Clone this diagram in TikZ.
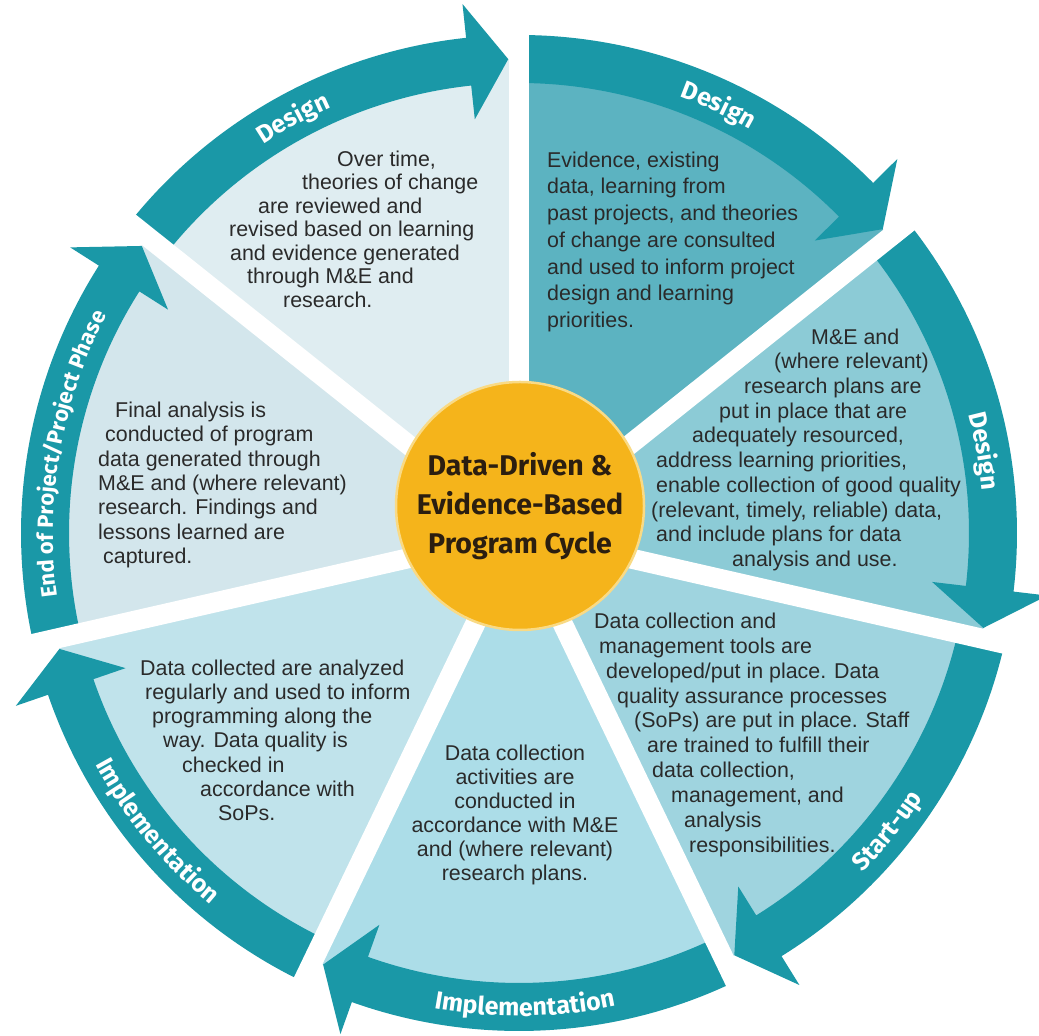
\documentclass[tikz,border=0pt]{standalone}
\usepackage{fontspec}
\setmainfont{Liberation Sans}
\newfontfamily\dinfont{Fira Sans}
\usetikzlibrary{decorations.text}

\definecolor{arrowteal}{HTML}{1A98A7}
\definecolor{hubyellow}{HTML}{F5B41B}
\definecolor{hubrim}{HTML}{F9DA85}
\definecolor{inkgray}{HTML}{2A2A2A}
\definecolor{hubink}{HTML}{2B1E10}
\definecolor{wedgeEvidence}{HTML}{5CB3C1}
\definecolor{wedgePlans}{HTML}{8CCBD6}
\definecolor{wedgeTools}{HTML}{9FD4DF}
\definecolor{wedgeCollect}{HTML}{ACDDE8}
\definecolor{wedgeAnalyse}{HTML}{C0E3EB}
\definecolor{wedgeFinal}{HTML}{D3E6EC}
\definecolor{wedgeReview}{HTML}{DFEDF1}

\newcommand{\blurbfont}[1]{\fontsize{21.4}{#1}\selectfont}
\newcommand{\labelfont}{\dinfont\bfseries\fontsize{25}{25}\selectfont}
\newcommand{\smalllabelfont}{\dinfont\bfseries\fontsize{22}{22}\selectfont}
\newcommand{\hubfont}{\dinfont\bfseries\fontsize{28.5}{39}\selectfont}

% wheel radii (1 unit = 1 pixel of the picture)
\def\wheelin{450}
\def\wheelout{498}
\def\wheelmid{474}
\def\barbout{532}
\def\barbin{416}

\tikzset{
  band/.style={fill=arrowteal, draw=none},
  gapline/.style={draw=white, line width=20pt},
  blurb/.style={font=\blurbfont{#1}, text=inkgray, inner sep=0pt, anchor=base west, align=left},
  arclabel/.style={decorate, decoration={text along path, text align=center, text color=white, text={|\labelfont|#1}}},
  smallarclabel/.style={decorate, decoration={text along path, text align=center, text color=white, text={|\smalllabelfont|#1}}},
  hub/.style={circle, fill=hubyellow, draw=hubrim, line width=2.5pt, minimum size=248pt, inner sep=0pt, align=center, font=\hubfont, text=hubink}
}

\begin{document}
\begin{tikzpicture}[x=1pt, y=1pt]
    \path[use as bounding box, fill=white] (0,0) rectangle (1039,1036);
    \begin{scope}[shift={(519,503)}]
        % wedges, clockwise from the top
        \foreach \k/\wedgecol in {0/wedgeEvidence, 1/wedgePlans, 2/wedgeTools, 3/wedgeCollect, 4/wedgeAnalyse, 5/wedgeFinal, 6/wedgeReview} {
            \pgfmathsetmacro{\a}{90-\k*360/7}
            \pgfmathsetmacro{\b}{\a-360/7}
            \fill[fill=\wedgecol] (0,0) -- (\a:\wheelmid) arc[start angle=\a, end angle=\b, radius=\wheelmid] -- cycle;
        }
        % curved arrows
        \foreach \k in {0,...,6} {
            \pgfmathsetmacro{\a}{90-\k*360/7}
            \pgfmathsetmacro{\b}{\a-360/7}
            \pgfmathsetmacro{\back}{\b+6.1}
            \pgfmathsetmacro{\tip}{\b+1.3}
            \fill[band] (\a:\wheelout) arc[start angle=\a, end angle=\back, radius=\wheelout] -- (\back:\barbout) -- (\tip:\wheelmid) -- (\back:\barbin) -- (\back:\wheelin) arc[start angle=\back, end angle=\a, radius=\wheelin] -- cycle;
        }
        % white gaps
        \foreach \k in {0,...,6}
            \draw[gapline] (0,0) -- ({90-\k*360/7}:525);
        % arrow labels
        \path[arclabel=Design] (138.6:465) arc[start angle=138.6, end angle=98.6, radius=465];
        \path[arclabel=Design] (85:465) arc[start angle=85, end angle=45, radius=465];
        \path[arclabel=Design] (30:465) arc[start angle=30, end angle=-10, radius=465];
        \path[arclabel=Start-up] (-59:483) arc[start angle=-59, end angle=-19, radius=483];
        \path[arclabel=Implementation] (-114.3:483) arc[start angle=-114.3, end angle=-64.3, radius=483];
        \path[arclabel=Implementation] (-165.5:483) arc[start angle=-165.5, end angle=-115.5, radius=483];
        \path[smallarclabel={End of Project/Project Phase}] (200:466) arc[start angle=200, end angle=140, radius=466];
    \end{scope}

    \node[hub] (hub) at (520,530) {Data-Driven \&\\Evidence-Based\\Program Cycle};

    \node[blurb=23.5] (review) at (229,728.5) {\hspace*{108pt}Over time,\\
        \hspace*{73pt}theories of change\\
        \hspace*{29pt}are reviewed and\\
        revised based on learning\\
        \hspace*{1pt}and evidence generated\\
        \hspace*{18pt}through M\&E and\\
        \hspace*{54pt}research.};
    \node[blurb=26.7] (evidence) at (547,708.5) {Evidence, existing\\
        data, learning from\\
        past projects, and theories\\
        of change are consulted\\
        and used to inform project\\
        design and learning\\
        priorities.};
    \node[blurb=24.7] (plans) at (651,469.5) {\hspace*{160pt}M\&E and\\
        \hspace*{123pt}(where relevant)\\
        \hspace*{93pt}research plans are\\
        \hspace*{68pt}put in place that are\\
        \hspace*{41pt}adequately resourced,\\
        \hspace*{5pt}address learning priorities,\\
        \hspace*{5pt}enable collection of good quality\\
        (relevant, timely, reliable) data,\\
        \hspace*{5pt}and include plans for data\\
        \hspace*{81pt}analysis and use.};
    \node[blurb=24.9] (tools) at (594,183.5) {Data collection and\\
        \hspace*{5pt}management tools are\\
        \hspace*{12pt}developed/put in place. Data\\
        \hspace*{23pt}quality assurance processes\\
        \hspace*{40pt}(SoPs) are put in place. Staff\\
        \hspace*{53pt}are trained to fulfill their\\
        \hspace*{58pt}data collection,\\
        \hspace*{77pt}management, and\\
        \hspace*{90pt}analysis\\
        \hspace*{95pt}responsibilities.};
    \node[blurb=24, anchor=base, align=center] (collect) at (515,155.5) {Data collection\\
        activities are\\
        conducted in\\
        accordance with M\&E\\
        and (where relevant)\\
        research plans.};
    \node[blurb=24.2] (analyse) at (140,215.5) {Data collected are analyzed\\
        \hspace*{5pt}regularly and used to inform\\
        \hspace*{12pt}programming along the\\
        \hspace*{23pt}way. Data quality is\\
        \hspace*{42pt}checked in\\
        \hspace*{60pt}accordance with\\
        \hspace*{78pt}SoPs.};
    \node[blurb=24.3] (final) at (98,472.5) {\hspace*{17pt}Final analysis is\\
        \hspace*{7pt}conducted of program\\
        data generated through\\
        M\&E and (where relevant)\\
        research. Findings and\\
        lessons learned are\\
        \hspace*{5pt}captured.};
\end{tikzpicture}
\end{document}
